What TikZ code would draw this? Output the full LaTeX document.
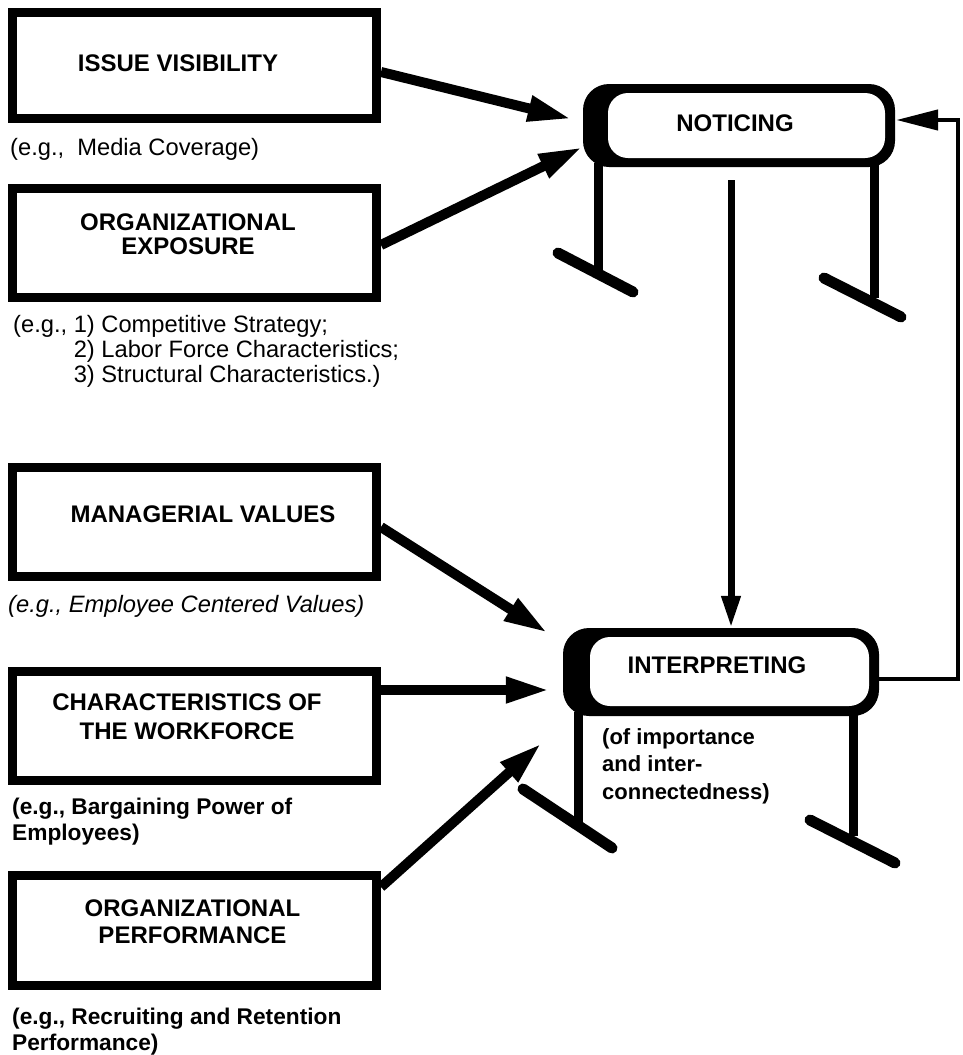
\documentclass[tikz,border=0pt]{standalone}
\usepackage{fontspec}
\setmainfont{Liberation Sans}
\usetikzlibrary{arrows.meta,calc}
\begin{document}
\begin{tikzpicture}[x=1pt,y=-1pt,
  box/.style={draw, rectangle, line width=9pt, minimum width=364pt, inner sep=0pt},
  lbl/.style={font=\fontsize{24}{24}\selectfont\bfseries, align=center, inner sep=0pt},
  note/.style={font=\fontsize{23.7}{25}\selectfont, align=left, inner sep=0pt, anchor=north west},
  bnote/.style={font=\fontsize{22.7}{26}\selectfont\bfseries, align=left, inner sep=0pt, anchor=north west},
  capsule/.style={fill=black, rectangle, rounded corners=26pt, inner sep=0pt},
  hole/.style={fill=white, rectangle, rounded corners=20pt, inner sep=0pt},
  fat/.style={line width=10pt, -{Triangle[length=44pt,width=24pt]}},
  slim/.style={line width=7pt, -{Triangle[length=32pt,width=18pt]}},
  fb/.style={line width=4.5pt, -{Triangle[length=42pt,width=20pt]}},
  leg/.style={line width=9pt},
  foot/.style={line width=11pt, line cap=round},
]
\useasboundingbox (0,0) rectangle (963,1055);

% left boxes
\node[box, minimum height=105.5pt] (b1) at (194.5,65.25) {};
\node[box, minimum height=109pt] (b2) at (194.5,242.5) {};
\node[box, minimum height=109pt] (b3) at (194.5,521.5) {};
\node[box, minimum height=109pt] (b4) at (194.5,725.5) {};
\node[box, minimum height=110pt] (b5) at (194.5,930) {};

\node[lbl] (t1) at (178,63) {ISSUE VISIBILITY};
\node[lbl] (t2) at (188,234.5) {ORGANIZATIONAL\\EXPOSURE};
\node[lbl] (t3) at (203,514) {MANAGERIAL VALUES};
\node[lbl, font=\fontsize{24}{29}\selectfont\bfseries] (t4) at (187,716.5) {CHARACTERISTICS OF\\THE WORKFORCE};
\node[lbl, font=\fontsize{24}{27}\selectfont\bfseries] (t5) at (192.5,921.5) {ORGANIZATIONAL\\PERFORMANCE};

% annotations
\node[note] (n1) at (10,138) {(e.g.,\ \ Media Coverage)};
\node[note] (n2) at (13,315) {(e.g., 1) Competitive Strategy;\\\phantom{(e.g., }2) Labor Force Characteristics;\\\phantom{(e.g., }3) Structural Characteristics.)};
\node[note, font=\fontsize{23.7}{25}\selectfont\itshape] (n3) at (8,595) {(e.g., Employee Centered Values)};
\node[bnote] (n4) at (12,798) {(e.g., Bargaining Power of\\Employees)};
\node[bnote] (n5) at (12,1008) {(e.g., Recruiting and Retention\\Performance)};

% legs of NOTICING
\draw[leg] (598,163) -- (598,273);
\draw[foot] (558,253) -- (633,292);
\draw[leg] (874,163) -- (874,298);
\draw[foot] (824,278) -- (901,317);

% legs of INTERPRETING
\draw[leg] (578,712) -- (578,822);
\draw[foot] (523,789) -- (612,848);
\draw[leg] (853,712) -- (853,836);
\draw[foot] (810,820) -- (895,863);

% NOTICING
\node[capsule, minimum width=312pt, minimum height=83pt] (nt) at (739,125.5) {};
\node[hole, minimum width=277pt, minimum height=65pt] (nti) at (746.5,125.5) {};
\node[lbl] (ntt) at (735,123) {NOTICING};

% INTERPRETING
\node[capsule, minimum width=316pt, minimum height=88pt] (it) at (721,672) {};
\node[hole, minimum width=279pt, minimum height=69pt] (iti) at (729.5,671.5) {};
\node[lbl] (itt) at (717,665) {INTERPRETING};
\node[bnote, font=\fontsize{22}{27.5}\selectfont\bfseries] (itn) at (602,728) {(of importance\\and inter-\\connectedness)};

% arrows
\draw[fat] ([yshift=-6.75pt]b1.east) -- ([xshift=-11pt,yshift=6.5pt]nt.west);
\draw[fat] ([yshift=-2.5pt]b2.east) -- ([yshift=-21.5pt]nt.west);
\draw[fat] ([yshift=-5.5pt]b3.east) -- ([xshift=-15pt,yshift=39pt]it.west);
\draw[fat] ([yshift=35.5pt]b4.east) -- ([xshift=-13pt,yshift=-18pt]it.west);
\draw[fat] ([yshift=43pt]b5.east) -- ([xshift=-21pt,yshift=-71pt]it.west);

\coordinate (vs) at (731,180);
\draw[slim] (vs) -- (vs |- it.north);

\coordinate (fr) at (958,679);
\draw[fb] ([yshift=-7pt]it.east) -- (fr) |- ([xshift=1pt,yshift=5.5pt]nt.east);
\end{tikzpicture}
\end{document}
